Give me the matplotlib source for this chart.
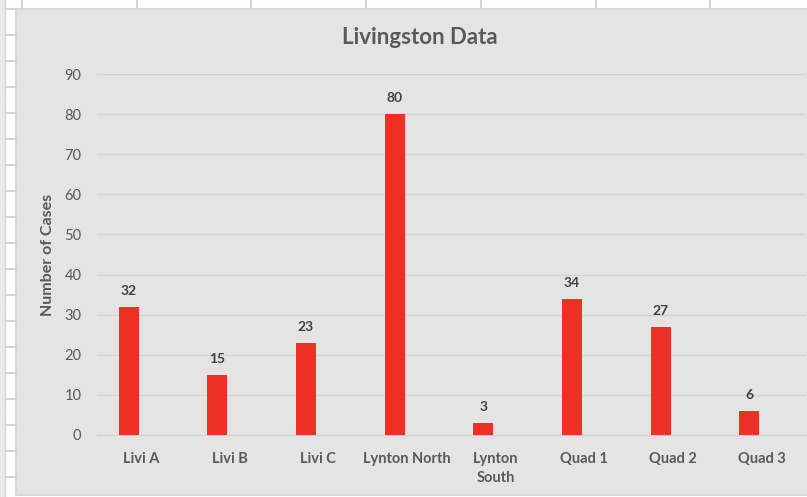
import matplotlib
matplotlib.use("Agg")
import matplotlib.pyplot as plt
from matplotlib.patches import Rectangle
from matplotlib.lines import Line2D

categories = ["Livi A", "Livi B", "Livi C", "Lynton North", "Lynton\nSouth",
              "Quad 1", "Quad 2", "Quad 3"]
cases = [32, 15, 23, 80, 3, 34, 27, 6]
yticks = [0, 10, 20, 30, 40, 50, 60, 70, 80, 90]

W, H = 807, 497
plt.rcParams['font.family'] = ['Lato', 'DejaVu Sans']
fig = plt.figure(figsize=(W / 100, H / 100), dpi=100, facecolor="white")

def px_rect(x0, y0, x1, y1, **kw):
    r = Rectangle((x0 / W, 1 - y1 / H), (x1 - x0) / W, (y1 - y0) / H,
                  transform=fig.transFigure, zorder=-5, **kw)
    fig.add_artist(r)

def px_line(x0, y0, x1, y1, **kw):
    l = Line2D([x0 / W, x1 / W], [1 - y0 / H, 1 - y1 / H],
               transform=fig.transFigure, zorder=-4, **kw)
    fig.add_artist(l)

grid_c = "#d4d4d4"
# spreadsheet strips
px_rect(0, 0, 4.5, H, facecolor="#e9e9e9", edgecolor="none")
px_line(4.5, 0, 4.5, H, color=grid_c, lw=1)
for xs in [22, 137, 251, 366, 481, 596, 710]:
    px_line(xs, 0, xs, 9, color=grid_c, lw=1.5)
for k in range(20):
    ys = 9 + 26 * k
    px_line(4.5, ys, 16, ys, color=grid_c, lw=1.5)
# chart area
px_rect(16, 9, W + 2, 495, facecolor="#e4e4e4", edgecolor="#d8d8d8", lw=1.5)

left, right = 96.7, 806
top, bottom = 74, 435
ax = fig.add_axes([left / W, 1 - bottom / H, (right - left) / W, (bottom - top) / H])
ax.set_facecolor("none")
ax.set_zorder(2)

x = list(range(len(categories)))
bar_x = [i - 0.14 for i in x]
bars = ax.bar(bar_x, cases, width=0.225, color="#ee3124", zorder=3)
for bx, v in zip(bar_x, cases):
    ax.annotate(str(v), (bx, v), xytext=(0, 7), textcoords="offset points",
                ha="center", va="bottom", fontsize=10, fontweight="bold",
                color="#404040")

ax.set_xlim(-0.5, len(categories) - 0.5)
ax.set_ylim(0, 90)
ax.set_yticks(yticks)
ax.set_yticklabels([str(t) for t in yticks], fontsize=10.5, color="#595959")
ax.set_xticks(x)
ax.set_xticklabels(categories, fontsize=10.5, fontweight="bold", color="#595959",
                   linespacing=1.5, va="top")
ax.tick_params(axis="both", length=0)
ax.tick_params(axis="x", pad=12)
ax.tick_params(axis="y", pad=11)
ax.grid(axis="y", color=grid_c, lw=1, zorder=0)
for s in ["top", "right", "left"]:
    ax.spines[s].set_visible(False)
ax.spines["bottom"].set_color(grid_c)
ax.spines["bottom"].set_linewidth(1)

ax.set_ylabel("Number of Cases", fontsize=11.5, fontweight="bold", color="#595959")
ax.yaxis.set_label_coords((48 - left) / (right - left), 0.5)
ax.yaxis.label.set_va("center")

fig.text(420 / W, 1 - 38 / H, "Livingston Data", ha="center", va="center",
         fontsize=16, fontweight="bold", color="#595959")

fig.savefig("out.png", dpi=100, facecolor="white")
